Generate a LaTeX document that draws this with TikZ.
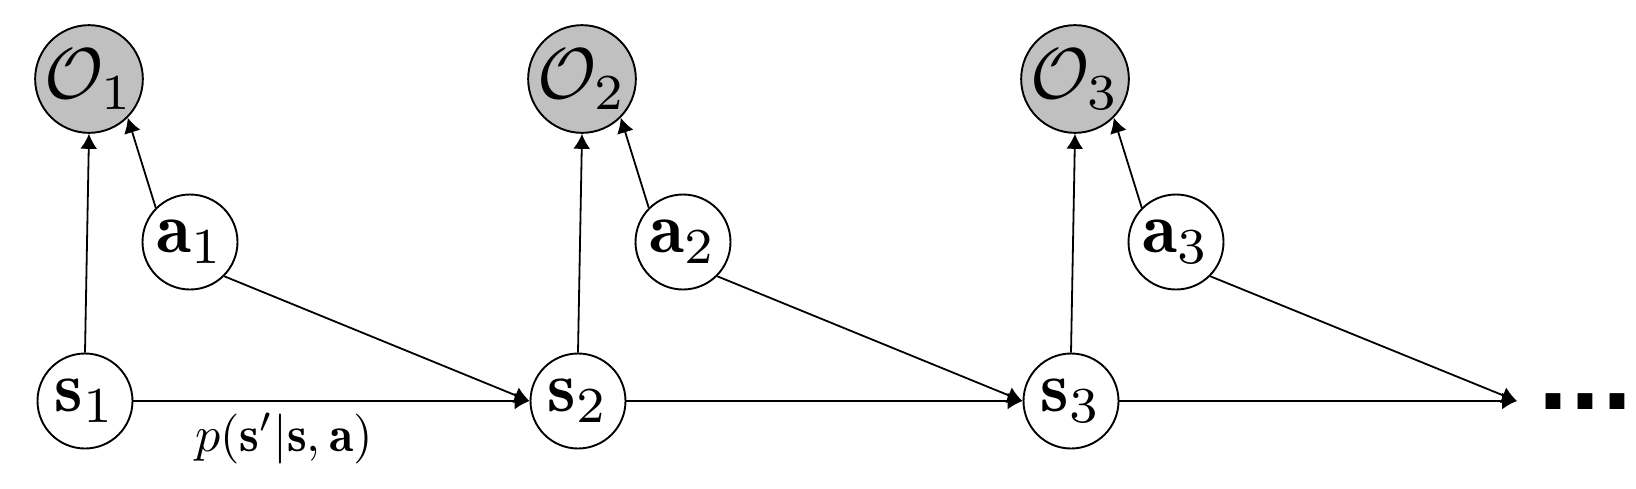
\RequirePackage{fix-cm}
\documentclass[tikz,border=0pt]{standalone}
\usepackage{graphicx}
\usepackage{fontspec}
\newfontfamily\dotsfont{DejaVu Sans}
\usetikzlibrary{arrows.meta}
\definecolor{obsgray}{RGB}{192,192,192}
\newcommand{\bigmath}[1]{\scalebox{3.6}{$#1$}}
\newcommand{\lblmath}[1]{\scalebox{2.5}{$#1$}}
\tikzset{
  varnode/.style={circle, draw=black, line width=0.95pt, fill=white, minimum size=47.5pt, inner sep=0pt},
  obsnode/.style={varnode, fill=obsgray},
  edge/.style={->, line width=0.9pt},
  lbl/.style={inner sep=0pt},
  dotstext/.style={inner sep=0pt, font=\dotsfont\bfseries\fontsize{42}{50}\selectfont}
}
\begin{document}
\begin{tikzpicture}[x=0.5pt, y=-0.5pt, >={Latex[length=7.5pt,width=8.5pt]}]
\useasboundingbox (0,0) rectangle (1636,488);
\foreach \i in {1,2,3} {
  \pgfmathsetmacro\dx{493*(\i-1)}
  \node[obsnode] (O\i) at (89+\dx,79) {\bigmath{\mathcal{O}_{\i}}};
  \node[varnode] (a\i) at (190+\dx,242) {\bigmath{\mathbf{a}_{\i}}};
  \node[varnode] (s\i) at (85+\dx,401) {\bigmath{\mathbf{s}_{\i}}};
}
\coordinate (end) at (1517,401);
\foreach \i in {1,2,3} {
  \draw[edge] (s\i.north) -- (O\i.south);
  \draw[edge] (a\i.north west) -- (O\i.south east);
}
\draw[edge] (s1) -- (s2);
\draw[edge] (s2) -- (s3);
\draw[edge] (s3) -- (end);
\draw[edge] (a1.south east) -- (s2.west);
\draw[edge] (a2.south east) -- (s3.west);
\draw[edge] (a3.south east) -- (end);
\node[lbl, anchor=base] (plabel) at (284,451) {\lblmath{p(\mathbf{s}'|\mathbf{s},\mathbf{a})}};
\node[dotstext, anchor=base west] (dots) at (1537,409) {...};
\end{tikzpicture}
\end{document}
